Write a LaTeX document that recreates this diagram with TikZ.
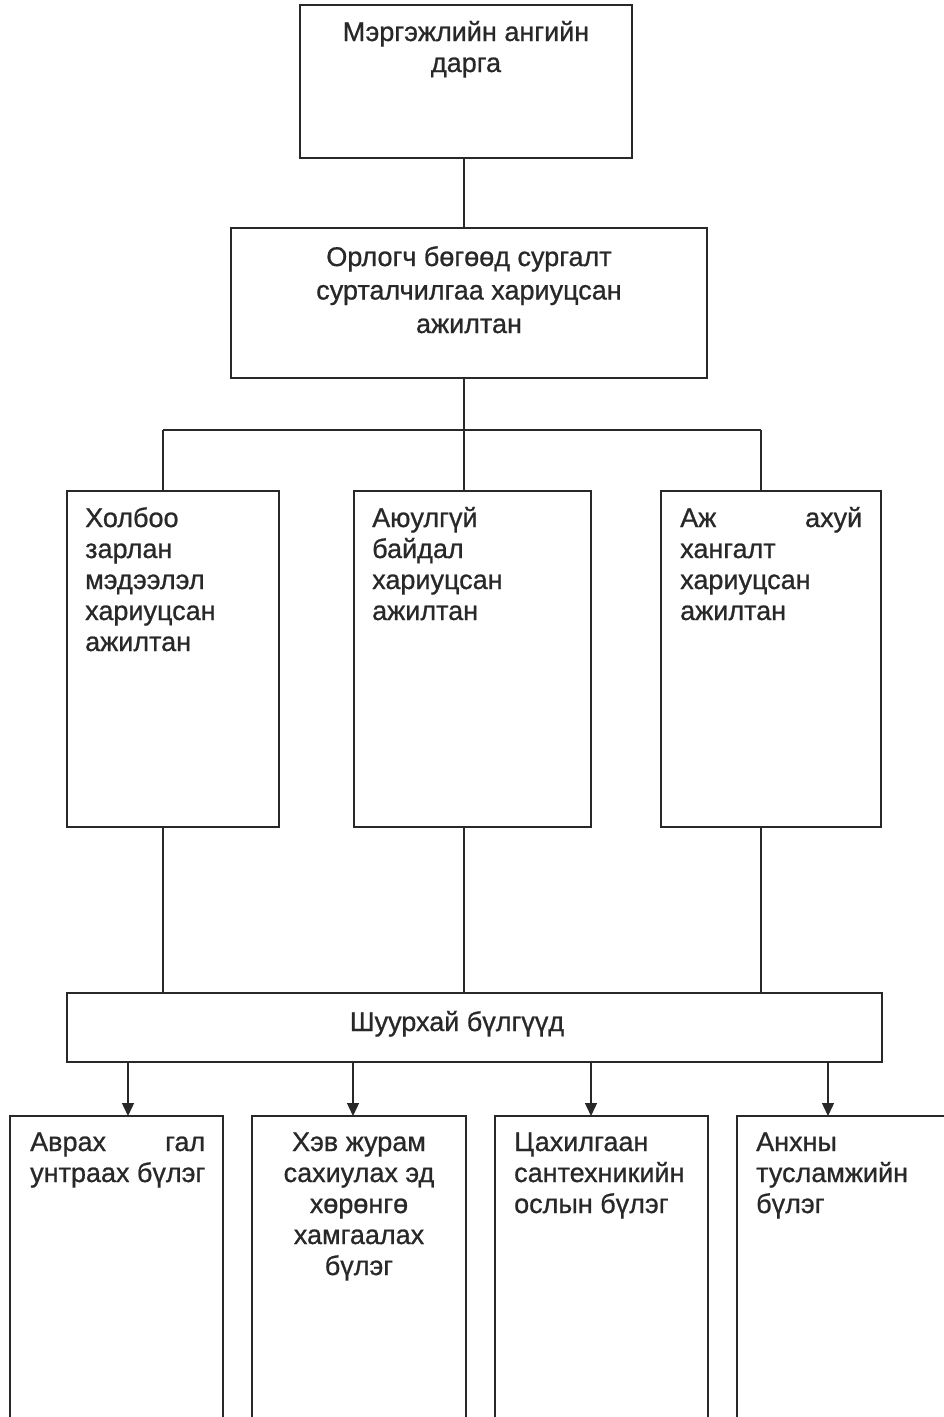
\documentclass[tikz,border=0pt]{standalone}
\usepackage{fontspec}
\setmainfont{Liberation Sans}[FakeBold=0.8]
\usetikzlibrary{arrows.meta}
\definecolor{ink}{RGB}{40,40,40}
\begin{document}
\begin{tikzpicture}[x=1pt,y=-1pt,
  box/.style={draw=ink,line width=1.3pt,inner sep=0pt,outer sep=0pt},
  txt/.style={text=ink,inner sep=0pt,font=\fontsize{27}{31}\selectfont},
  conn/.style={draw=ink,line width=1.3pt},
  arr/.style={conn,-{Triangle[width=12pt,length=13pt]}}]
\useasboundingbox[fill=white] (0,0) rectangle (943,1417);
% boxes
\node[box,minimum width=332pt,minimum height=153pt] (top) at (466,81.5) {};
\node[box,minimum width=476pt,minimum height=150pt] (dep) at (469,303) {};
\node[box,minimum width=212pt,minimum height=336pt] (m1) at (173,659) {};
\node[box,minimum width=237pt,minimum height=336pt] (m2) at (472.5,659) {};
\node[box,minimum width=220pt,minimum height=336pt] (m3) at (771,659) {};
\node[box,minimum width=815pt,minimum height=69pt] (sh) at (474.5,1027.5) {};
\node[box,minimum width=213pt,minimum height=306pt] (b1) at (116.5,1269) {};
\node[box,minimum width=214pt,minimum height=306pt] (b2) at (359,1269) {};
\node[box,minimum width=213pt,minimum height=306pt] (b3) at (601.5,1269) {};
\node[box,minimum width=209pt,minimum height=306pt] (b4) at (841.5,1269) {};
% texts (anchor = baseline of the last line)
\node[txt,align=center,anchor=base] (ttop) at (466,72) {Мэргэжлийн ангийн\\дарга};
\node[txt,align=center,anchor=base,font=\fontsize{27}{33.5}\selectfont] (tdep) at (469,333) {Орлогч бөгөөд сургалт\\сурталчилгаа хариуцсан\\ажилтан};
\node[txt,align=left,anchor=base west] (tm1) at (85,651) {Холбоо\\зарлан\\мэдээлэл\\хариуцсан\\ажилтан};
\node[txt,align=left,anchor=base west] (tm2) at (372,620) {Аюулгүй\\байдал\\хариуцсан\\ажилтан};
\node[txt,align=left,anchor=base west] (tm3) at (680,620) {\hbox to 182pt{Аж\hfill ахуй}\\хангалт\\хариуцсан\\ажилтан};
\node[txt,anchor=base] (tsh) at (457,1031) {Шуурхай бүлгүүд};
\node[txt,align=left,anchor=base west] (tb1) at (30,1182) {\hbox to 175pt{Аврах\hfill гал}\\унтраах бүлэг};
\node[txt,align=center,anchor=base] (tb2) at (359,1275) {Хэв журам\\сахиулах эд\\хөрөнгө\\хамгаалах\\бүлэг};
\node[txt,align=left,anchor=base west] (tb3) at (514,1213) {Цахилгаан\\сантехникийн\\ослын бүлэг};
\node[txt,align=left,anchor=base west] (tb4) at (756,1213) {Анхны\\тусламжийн\\бүлэг};
% connectors
\coordinate (bus) at (464,430);
\coordinate (j1) at (163,430);
\coordinate (j3) at (761,430);
\draw[conn] (top.south -| bus) -- (bus |- dep.north);
\draw[conn] (bus |- dep.south) -- (bus);
\draw[conn] (j1) -- (j3);
\draw[conn] (j1) -- (j1 |- m1.north);
\draw[conn] (bus) -- (bus |- m2.north);
\draw[conn] (j3) -- (j3 |- m3.north);
\draw[conn] (j1 |- m1.south) -- (j1 |- sh.north);
\draw[conn] (bus |- m2.south) -- (bus |- sh.north);
\draw[conn] (j3 |- m3.south) -- (j3 |- sh.north);
\coordinate (a1) at (128,1062);
\coordinate (a2) at (353,1062);
\coordinate (a3) at (591,1062);
\coordinate (a4) at (828,1062);
\draw[arr] (a1 |- sh.south) -- (a1 |- b1.north);
\draw[arr] (a2 |- sh.south) -- (a2 |- b2.north);
\draw[arr] (a3 |- sh.south) -- (a3 |- b3.north);
\draw[arr] (a4 |- sh.south) -- (a4 |- b4.north);
\end{tikzpicture}
\end{document}
